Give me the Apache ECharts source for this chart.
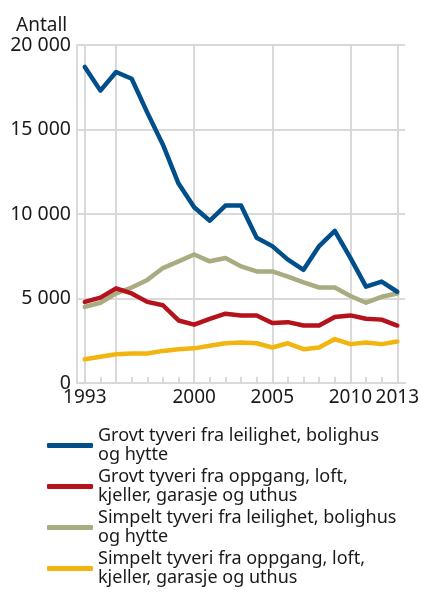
<!DOCTYPE html>
<html>
<head>
<meta charset="utf-8">
<script src="https://cdn.jsdelivr.net/npm/echarts@6/dist/echarts.min.js"></script>
<style>
html,body{margin:0;padding:0;background:#fff;}
#chart{width:422px;height:594px;}
</style>
</head>
<body>
<div id="chart"></div>
<script>
const years = [1993,1994,1995,1996,1997,1998,1999,2000,2001,2002,2003,2004,2005,2006,2007,2008,2009,2010,2011,2012,2013];
const grovtBolig = [18700,17300,18400,18000,16000,14100,11800,10400,9600,10500,10500,8600,8100,7300,6700,8100,9000,7400,5700,6000,5400];
const grovtOppgang = [4800,5050,5600,5300,4800,4600,3700,3450,3800,4100,4000,4000,3550,3600,3400,3400,3900,4000,3800,3750,3400];
const simpeltBolig = [4500,4750,5300,5650,6100,6800,7200,7600,7200,7400,6900,6600,6600,6300,5950,5650,5650,5150,4750,5100,5300];
const simpeltOppgang = [1400,1550,1700,1750,1750,1900,2000,2050,2200,2350,2400,2350,2100,2350,2000,2100,2600,2300,2400,2300,2450];
const seriesNames = [
  'Grovt tyveri fra leilighet, bolighus\nog hytte',
  'Grovt tyveri fra oppgang, loft,\nkjeller, garasje og uthus',
  'Simpelt tyveri fra leilighet, bolighus\nog hytte',
  'Simpelt tyveri fra oppgang, loft,\nkjeller, garasje og uthus'
];
const colors = ['#004e8a','#b5121b','#a9ab80','#f2b40f'];
const xLabelYears = [1993,2000,2005,2010,2013];
const xGridYears = [1993,1995,2000,2005,2010,2013];
const yTicks = [0,5000,10000,15000,20000];

const FONT = 'Noto Sans';
const GRID = '#d9d9d9';
const TXT = '#1a1a1a';
const allSeries = [grovtBolig, grovtOppgang, simpeltBolig, simpeltOppgang];

const chart = echarts.init(document.getElementById('chart'));
const series = allSeries.map((vals, i) => ({
  name: seriesNames[i],
  type: 'line',
  data: years.map((y, j) => [y, vals[j]]),
  symbol: 'none',
  z: 10 - i,
  lineStyle: {width: 4.5, color: colors[i], join: 'round', cap: 'round'},
  itemStyle: {color: colors[i]}
}));
series.push({
  type: 'line',
  data: [],
  silent: true,
  z: 1,
  markLine: {
    silent: true,
    symbol: 'none',
    label: {show: false},
    lineStyle: {color: GRID, width: 2, type: 'solid'},
    data: xGridYears.map(y => ({xAxis: y}))
  }
});

chart.setOption({
  animation: false,
  textStyle: {fontFamily: FONT},
  title: {
    text: 'Antall', left: 11, top: 11,
    textStyle: {fontFamily: FONT, fontSize: 19, fontWeight: 'normal', color: TXT}
  },
  grid: {left: 77, right: 14, top: 45, bottom: 211, containLabel: false},
  xAxis: {
    type: 'value', min: 1992.5, max: 2013.5,
    axisLine: {show: true, lineStyle: {color: GRID, width: 2}},
    axisTick: {show: true, inside: true, length: 6, lineStyle: {color: GRID, width: 2}, customValues: years},
    axisLabel: {customValues: xLabelYears, fontSize: 19, color: TXT, margin: 5, formatter: v => String(v)},
    splitLine: {show: false}
  },
  yAxis: {
    type: 'value', min: 0, max: 20000, interval: 5000,
    axisLine: {show: true, lineStyle: {color: GRID, width: 2}},
    axisTick: {show: false},
    axisLabel: {fontSize: 19.5, color: TXT, margin: 6,
      formatter: v => yTicks.includes(v) ? String(v).replace(/\B(?=(\d{3})+(?!\d))/g, ' ') : ''},
    splitLine: {show: true, lineStyle: {color: GRID, width: 2}}
  },
  legend: {
    orient: 'vertical', left: 42, top: 412, height: 200,
    itemWidth: 46, itemHeight: 5, itemGap: -16,
    icon: 'roundRect',
    data: seriesNames,
    textStyle: {fontFamily: FONT, fontSize: 18, color: TXT, lineHeight: 19, padding: [19,0,0,0]}
  },
  series: series
});
</script>
</body>
</html>
